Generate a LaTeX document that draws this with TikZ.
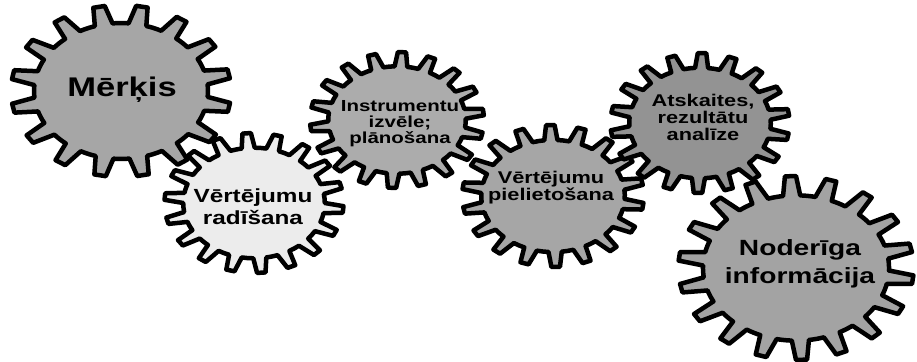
\documentclass[tikz,border=0pt]{standalone}
\usepackage{fontspec}
\setmainfont{Liberation Sans}
\newcommand\gearshape[6]{%
  \begin{scope}[shift={(#1,#2)}, xscale=1.28]
    \pgfmathsetmacro\gP{360/#4}
    \pgfmathsetmacro\gr{0.79*#3}
    \filldraw[gearline, fill=#5] (#6:\gr)
      \foreach \i in {1,...,#4} {
        -- ({#6+(\i-1)*\gP+0.13*\gP}:#3)
        -- ({#6+(\i-1)*\gP+0.40*\gP}:#3)
        -- ({#6+(\i-1)*\gP+0.53*\gP}:\gr)
        arc[start angle={#6+(\i-1)*\gP+0.53*\gP}, end angle={#6+\i*\gP}, radius=\gr]
      } -- cycle;
  \end{scope}}
\begin{document}
\begin{tikzpicture}[x=1pt,y=-1pt,
  gearline/.style={draw=black, line width=4.5pt, line join=round},
  gtext/.style={align=center, xscale=1.28, inner sep=0pt}]
\useasboundingbox (0,0) rectangle (917,361);
\fill[white] (0,0) rectangle (917,361);
\gearshape{121}{91}{86}{16}{gray!70}{5}
\gearshape{254}{203}{70}{18}{gray!15}{0}
\gearshape{397}{120}{68}{18}{gray!65}{8}
\gearshape{553}{196}{71}{18}{gray!70}{3}
\gearshape{700}{123}{70}{18}{gray!85}{6}
\gearshape{796}{268}{92}{18}{gray!72}{2}
\node[gtext, font={\bfseries\fontsize{27}{30}\selectfont}] (t1) at (122,90) {Mērķis};
\node[gtext, font={\bfseries\fontsize{19}{22}\selectfont}] (t2) at (253,207) {Vērtējumu\\radīšana};
\node[gtext, font={\bfseries\fontsize{16}{16}\selectfont}] (t3) at (400,124) {Instrumentu\\izvēle;\\plānošana};
\node[gtext, font={\bfseries\fontsize{17}{17}\selectfont}] (t4) at (551,188) {Vērtējumu\\pielietošana};
\node[gtext, font={\bfseries\fontsize{17}{17}\selectfont}] (t5) at (703,117) {Atskaites,\\rezultātu\\analīze};
\node[gtext, font={\bfseries\fontsize{22}{28}\selectfont}] (t6) at (800,264) {Noderīga\\informācija};
\end{tikzpicture}
\end{document}
